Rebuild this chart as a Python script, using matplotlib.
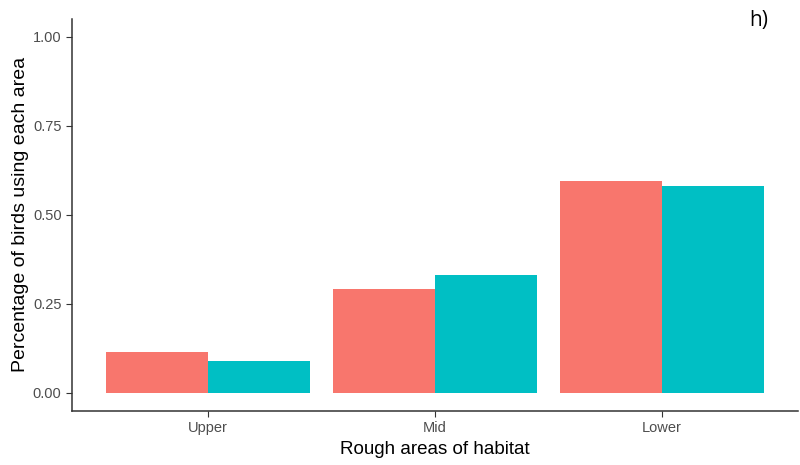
import matplotlib
matplotlib.use("Agg")
import matplotlib.pyplot as plt
import numpy as np

plt.rcParams["font.family"] = ["Liberation Sans", "DejaVu Sans"]

# data
areas = ["Upper", "Mid", "Lower"]
group_a = [0.116, 0.292, 0.594]
group_b = [0.089, 0.332, 0.581]

fig = plt.figure(figsize=(8, 4.65), dpi=100)
ax = fig.add_axes([0.09, 0.1166, 0.907, 0.8425])

x = np.arange(1, len(areas) + 1)
w = 0.45
ax.bar(x - w / 2, group_a, width=w, color="#F8766D")
ax.bar(x + w / 2, group_b, width=w, color="#00BFC4")

ax.set_xlim(0.4, 3.6)
ax.set_ylim(-0.05, 1.05)
ax.set_xticks(x)
ax.set_xticklabels(areas)
ax.set_yticks([0, 0.25, 0.5, 0.75, 1.0])
ax.set_yticklabels(["0.00", "0.25", "0.50", "0.75", "1.00"])

for s in ["top", "right"]:
    ax.spines[s].set_visible(False)
for s in ["left", "bottom"]:
    ax.spines[s].set_color("#333333")
    ax.spines[s].set_linewidth(1.1)
ax.tick_params(colors="#333333", labelcolor="#4D4D4D", labelsize=10.5, length=4)

ax.set_xlabel("Rough areas of habitat", fontsize=13.5, labelpad=4)
ax.set_ylabel("Percentage of birds using each area", fontsize=14, labelpad=3)

fig.text(0.96, 0.955, "h)", fontsize=15, family="Open Sans", ha="right", va="center")

fig.savefig("out.png", dpi=100)
